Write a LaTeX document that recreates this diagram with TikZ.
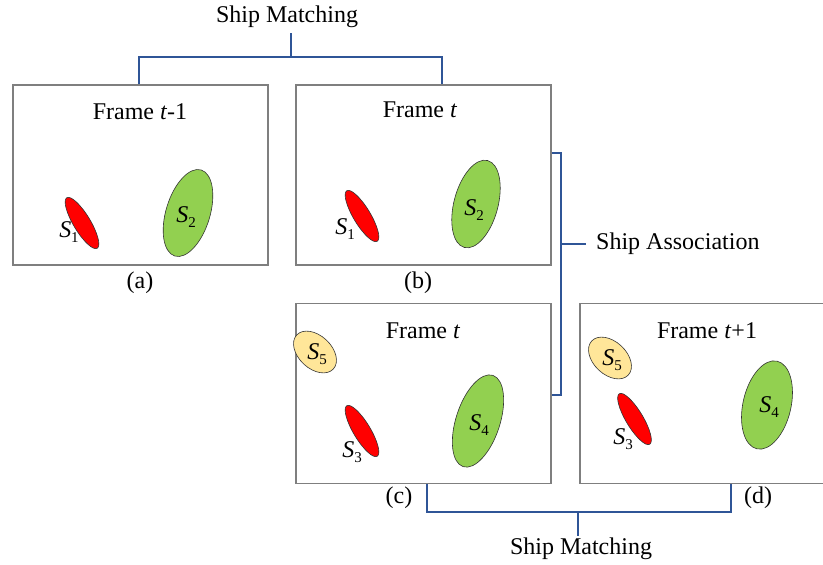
\documentclass[tikz,border=0pt]{standalone}
\usepackage{fontspec}
\setmainfont{Liberation Serif}
\usetikzlibrary{shapes.geometric}
\definecolor{framegray}{HTML}{7F7F7F}
\definecolor{linkblue}{HTML}{2F5597}
\definecolor{shipred}{HTML}{FF0000}
\definecolor{shipgreen}{HTML}{92D050}
\definecolor{shipyellow}{HTML}{FFE699}
\newcommand{\shiplabel}[1]{\textit{S}\raisebox{-0.22em}{\fontsize{15}{15}\selectfont #1}}
\begin{document}
\begin{tikzpicture}[x=1pt,y=-1pt,
  every node/.style={font=\fontsize{24}{28}\selectfont, inner sep=2pt},
  framebox/.style={draw=framegray, line width=1.2pt, rectangle, inner sep=0pt,
    minimum width=255, minimum height=180},
  linkline/.style={draw=linkblue, line width=1.8pt},
  ship/.style={ellipse, draw=black!80, line width=0.6pt, inner sep=0pt},
  redship/.style={ship, fill=shipred, minimum width=59, minimum height=17},
  greenship/.style={ship, fill=shipgreen, minimum width=90, minimum height=44},
  yellowship/.style={ship, fill=shipyellow, minimum width=50, minimum height=33},
  shiptext/.style={inner sep=0pt}
]
\useasboundingbox (0,0) rectangle (823,565);
\clip (0,0) rectangle (823,565);

% frames
\node[framebox] (fa) at (140.5,175) {};
\node[framebox] (fb) at (423.5,175) {};
\node[framebox] (fc) at (423.5,393.5) {};
\node[framebox] (fd) at (707.5,393.5) {};

% frame titles and captions
\node (ta) at (140,112) {Frame \textit{t}-1};
\node (tb) at (420,110) {Frame \textit{t}};
\node (tc) at (423,331) {Frame \textit{t}};
\node (td) at (707,331) {Frame \textit{t}+1};
\node (ca) at (140,283) {(a)};
\node (cb) at (418,283) {(b)};
\node (cc) at (399,498) {(c)};
\node (cd) at (758,498) {(d)};

% frame (a)
\node[redship, rotate=-59] (a1) at (82,223) {};
\node[greenship, rotate=73] (a2) at (188,213) {};
\node[shiptext] (la1) at (69,232) {\shiplabel{1}};
\node[shiptext] (la2) at (186,217) {\shiplabel{2}};

% frame (b)
\node[redship, rotate=-59] (b1) at (362,216) {};
\node[greenship, rotate=75] (b2) at (476,204) {};
\node[shiptext] (lb1) at (345,229) {\shiplabel{1}};
\node[shiptext] (lb2) at (474,210) {\shiplabel{2}};

% frame (c)
\node[yellowship, rotate=-43] (c5) at (315,352) {};
\node[redship, rotate=-59] (c3) at (362,431) {};
\node[greenship, rotate=72, minimum width=96] (c4) at (478,421) {};
\node[shiptext] (lc5) at (317,354) {\shiplabel{5}};
\node[shiptext] (lc3) at (352,452) {\shiplabel{3}};
\node[shiptext] (lc4) at (479,425) {\shiplabel{4}};

% frame (d)
\node[yellowship, rotate=-43] (d5) at (610,358) {};
\node[redship, rotate=-59] (d3) at (634.5,419) {};
\node[greenship, rotate=77, minimum height=48] (d4) at (767,405) {};
\node[shiptext] (ld5) at (612,360) {\shiplabel{5}};
\node[shiptext] (ld3) at (623,439) {\shiplabel{3}};
\node[shiptext] (ld4) at (769,407) {\shiplabel{4}};

% matching between t-1 and t
\node (mtop) at (287,17) {Ship Matching};
\coordinate (tl) at (139,57);
\coordinate (tr) at (442,57);
\coordinate (tj) at (291,57);
\coordinate (tt) at (291,33);
\draw[linkline] (fa.north -| tl) -- (tl) -- (tr) -- (fb.north -| tr);
\draw[linkline] (tt) -- (tj);

% association within frame t
\coordinate (at) at (561,153);
\coordinate (ab) at (561,395);
\coordinate (am) at (561,244);
\node[anchor=west] (assoc) at (594,244) {Ship Association};
\draw[linkline] (fb.east |- at) -- (at) -- (ab) -- (fc.east |- ab);
\draw[linkline] (am) -- ++(25,0);

% matching between t and t+1
\coordinate (bl) at (427,512);
\coordinate (br) at (731,512);
\coordinate (bj) at (578,512);
\node (mbot) at (581,549) {Ship Matching};
\draw[linkline] (fc.south -| bl) -- (bl) -- (br) -- (fd.south -| br);
\draw[linkline] (bj) -- (bj |- mbot.north);
\end{tikzpicture}
\end{document}
